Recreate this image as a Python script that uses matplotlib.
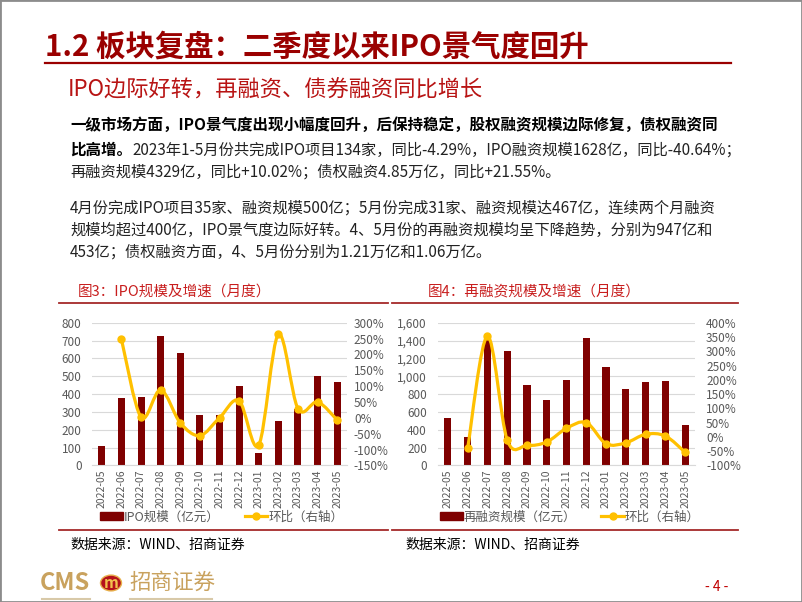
import matplotlib
matplotlib.use("Agg")
import matplotlib.pyplot as plt
import numpy as np
from matplotlib.path import Path
from matplotlib.patches import PathPatch, Rectangle, Circle
from matplotlib.lines import Line2D
from matplotlib.ticker import FuncFormatter, MultipleLocator

plt.rcParams['font.family'] = ['Noto Sans CJK SC', 'DejaVu Sans']

W, H = 802, 602

months = ["2022-05", "2022-06", "2022-07", "2022-08", "2022-09", "2022-10", "2022-11",
          "2022-12", "2023-01", "2023-02", "2023-03", "2023-04", "2023-05"]

# 图3: IPO规模（亿元）及环比（%）
ipo_scale = [108, 376, 385, 725, 630, 280, 284, 445, 67, 249, 318, 500, 467]
ipo_mom = [248, 2, 88, -16, -56, 0, 54, -86, 263, 29, 50, -7]  # from 2022-06

# 图4: 再融资规模（亿元）及环比（%）
refi_scale = [530, 322, 1440, 1282, 900, 738, 957, 1426, 1104, 862, 935, 947, 453]
refi_mom = [-40, 353, -11, -30, -18, 30, 50, -24, -21, 9, 3, -54]  # from 2022-06

body_lines = [
    "一级市场方面，IPO景气度出现小幅度回升，后保持稳定，股权融资规模边际修复，债权融资同",
    "2023年1-5月份共完成IPO项目134家，同比-4.29%，IPO融资规模1628亿，同比-40.64%；",
    "再融资规模4329亿，同比+10.02%；债权融资4.85万亿，同比+21.55%。",
    "4月份完成IPO项目35家、融资规模500亿；5月份完成31家、融资规模达467亿，连续两个月融资",
    "规模均超过400亿，IPO景气度边际好转。4、5月份的再融资规模均呈下降趋势，分别为947亿和",
    "453亿；债权融资方面，4、5月份分别为1.21万亿和1.06万亿。",
]

BAR = "#7F0000"
LINE = "#FFC000"
GRAY = "#595959"


def fx(x):
    return x / W


def fy(y):
    return 1 - y / H


def smooth_path(xs, ys):
    # Catmull-Rom through the points, written as cubic Bezier segments
    pts = np.column_stack([xs, ys]).astype(float)
    n = len(pts)
    verts = [pts[0]]
    codes = [Path.MOVETO]
    for i in range(n - 1):
        p0 = pts[i - 1] if i > 0 else pts[i]
        p1 = pts[i]
        p2 = pts[i + 1]
        p3 = pts[i + 2] if i + 2 < n else pts[i + 1]
        verts += [p1 + (p2 - p0) / 6, p2 - (p3 - p1) / 6, p2]
        codes += [Path.CURVE4] * 3
    return Path(verts, codes)


def draw_chart(fig, x0, x1, values, mom, ymax, ystep, rlim, bar_label,
               left_fmt, lpad, rpad, legend_x):
    top, bottom = 322.7, 465.4
    ax = fig.add_axes([fx(x0), fy(bottom), (x1 - x0) / W, (bottom - top) / H])
    x = np.arange(len(months))
    ax.bar(x, values, width=0.36, color=BAR, zorder=2)
    ax.set_xlim(-0.5, len(months) - 0.5)
    ax.set_ylim(0, ymax)
    ax.yaxis.set_major_locator(MultipleLocator(ystep))
    ax.yaxis.set_major_formatter(FuncFormatter(left_fmt))
    ax.set_xticks(x)
    ax.set_xticklabels(months, rotation=90)
    ax.grid(axis='y', color="#D9D9D9", linewidth=0.8, zorder=0)
    ax.set_axisbelow(True)
    for s in ["top", "right", "left"]:
        ax.spines[s].set_visible(False)
    ax.spines["bottom"].set_color("#D9D9D9")
    ax.tick_params(axis='y', length=0, pad=lpad, labelsize=8.5, labelcolor=GRAY)
    ax.tick_params(axis='x', length=0, pad=3, labelsize=7.5, labelcolor=GRAY)

    ax2 = ax.twinx()
    ax2.set_ylim(*rlim)
    ax2.yaxis.set_major_locator(MultipleLocator(50))
    ax2.yaxis.set_major_formatter(FuncFormatter(lambda v, p: f"{v:.0f}%"))
    ax2.tick_params(axis='y', length=0, pad=rpad, labelsize=8.5, labelcolor=GRAY)
    for s in ax2.spines.values():
        s.set_visible(False)
    xm = x[1:]
    ax2.add_patch(PathPatch(smooth_path(xm, mom), facecolor='none', edgecolor=LINE,
                            linewidth=2.3, zorder=3, capstyle='round', joinstyle='round'))
    ax2.plot(xm, mom, 'o', color=LINE, markersize=5, zorder=4)

    handles = [Rectangle((0, 0), 1, 1, color=BAR),
               Line2D([], [], color=LINE, linewidth=2.3, marker='o', markersize=5)]
    fig.legend(handles, [bar_label, "环比（右轴）"], loc='center',
               bbox_to_anchor=(fx(legend_x), fy(517)), ncol=2, frameon=False,
               fontsize=9, labelcolor=GRAY, handlelength=1.8, handleheight=0.6,
               handletextpad=0.1, columnspacing=2.0)
    return ax


fig = plt.figure(figsize=(W / 100, H / 100), dpi=100)

# frame of the slide
fig.patches.append(Rectangle((0, 0), 1, 1, transform=fig.transFigure, fill=False,
                             edgecolor="#8C8C8C", linewidth=2))

fig.text(fx(45), fy(47), "1.2 板块复盘：二季度以来IPO景气度回升", fontsize=21.2,
         fontweight='bold', color="#9A0000", va='center', ha='left')
fig.add_artist(Line2D([fx(45), fx(731)], [fy(63), fy(63)], color="#9A0000", linewidth=1.6))
fig.text(fx(68), fy(90), "IPO边际好转，再融资、债券融资同比增长", fontsize=16,
         color="#B81414", va='center', ha='left')

fig.text(fx(70), fy(125), body_lines[0], fontsize=11.2, fontweight='bold',
         color="black", va='center', ha='left')
t = fig.text(fx(70), fy(150), "比高增。", fontsize=11.2, fontweight='bold',
             color="black", va='center', ha='left')
fig.canvas.draw()
bb = t.get_window_extent(renderer=fig.canvas.get_renderer())
fig.text(fx(bb.x1), fy(150), body_lines[1], fontsize=11.0, color="#222222",
         va='center', ha='left')
for line, yy in zip(body_lines[2:], [172, 208, 230, 252]):
    fig.text(fx(70), fy(yy), line, fontsize=11.0, color="#222222", va='center', ha='left')

# chart captions and rules
fig.text(fx(78), fy(292), "图3：IPO规模及增速（月度）", fontsize=10.5, color="#C81E1E",
         va='center', ha='left')
fig.text(fx(428), fy(292), "图4：再融资规模及增速（月度）", fontsize=10.5, color="#C81E1E",
         va='center', ha='left')
for xa, xb in [(59, 388), (392, 738)]:
    fig.add_artist(Line2D([fx(xa), fx(xb)], [fy(303), fy(303)], color="#A52A2A", linewidth=1.3))
    fig.add_artist(Line2D([fx(xa), fx(xb)], [fy(530), fy(530)], color="#A52A2A", linewidth=1.3))

draw_chart(fig, 92, 347, ipo_scale, ipo_mom, 800, 100, (-150, 300), "IPO规模（亿元）",
           lambda v, p: f"{v:.0f}", 7.5, 5, 222)
draw_chart(fig, 438, 695, refi_scale, refi_mom, 1600, 200, (-100, 400), "再融资规模（亿元）",
           lambda v, p: f"{v:,.0f}", 8, 8, 570)

fig.text(fx(70), fy(545), "数据来源：WIND、招商证券", fontsize=10, color="black",
         va='center', ha='left')
fig.text(fx(405), fy(545), "数据来源：WIND、招商证券", fontsize=10, color="black",
         va='center', ha='left')

# footer logo
GOLD = "#C9A25E"
fig.text(fx(40), fy(583), "CMS", fontsize=17, fontweight='bold', color=GOLD,
         va='center', ha='left')
fig.patches.append(Circle((fx(111), fy(583)), 10.5 / W, transform=fig.transFigure,
                          facecolor="#B5121B", edgecolor="#E8B04A", linewidth=1))
fig.text(fx(111), fy(583), "m", fontsize=11, fontweight='bold', style='italic',
         color="#F2C14E", va='center', ha='center')
fig.text(fx(129), fy(583), "招商证券", fontsize=15.5, color=GOLD, va='center', ha='left')
for xa, xb in [(42, 90), (130, 212)]:
    fig.add_artist(Line2D([fx(xa), fx(xb)], [fy(599), fy(599)], color="#D8C9A8", linewidth=1.5))
fig.text(fx(717), fy(587), "- 4 -", fontsize=10, color="#C00000", va='center', ha='center')

fig.savefig("out.png", dpi=100)
